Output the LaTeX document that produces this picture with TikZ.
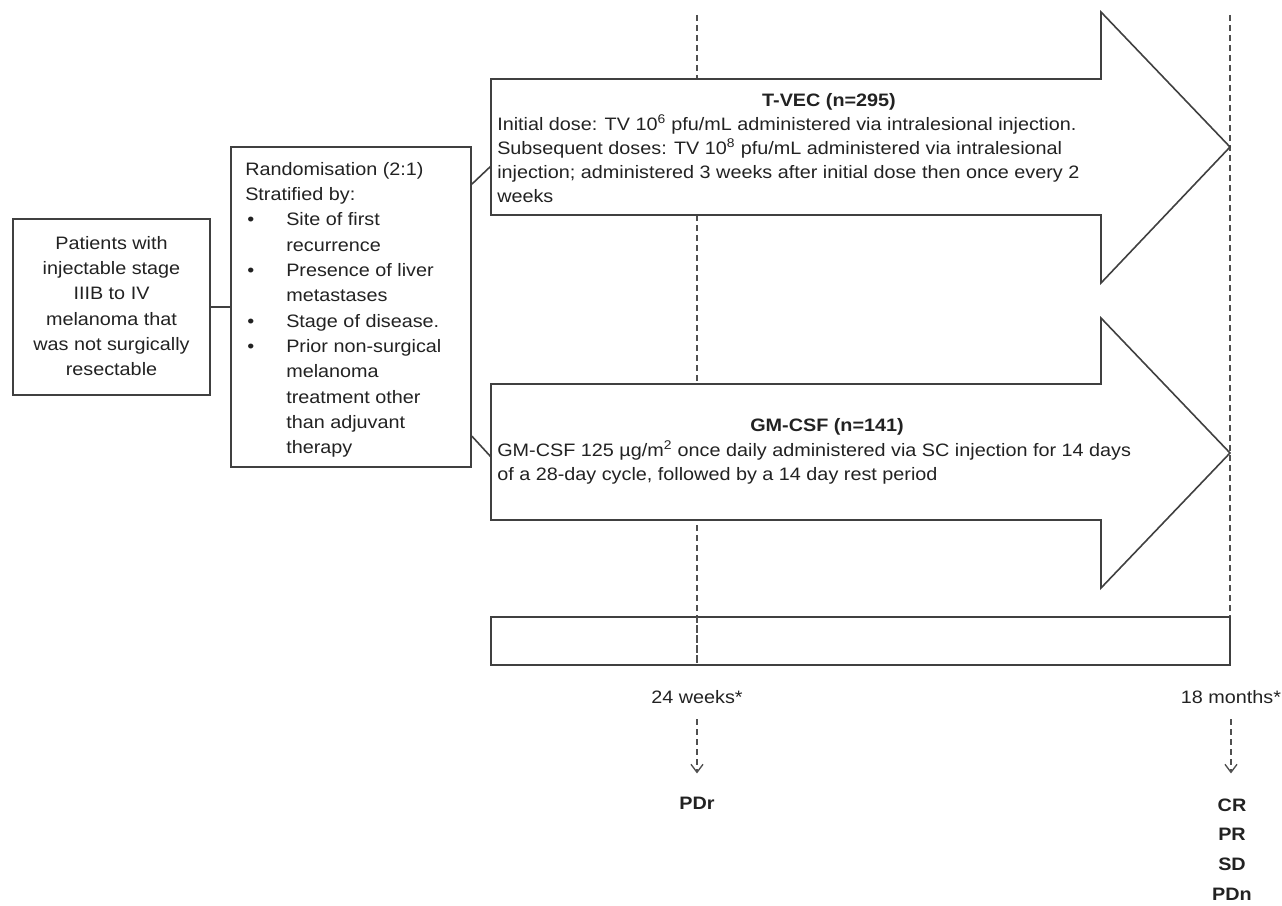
\documentclass[tikz,border=0pt]{standalone}
\usepackage{fontspec}
\setmainfont{Liberation Sans}[FakeStretch=1.1]
\usetikzlibrary{arrows.meta}
\definecolor{edge}{HTML}{404040}
\definecolor{ink}{HTML}{222222}
\definecolor{dash}{HTML}{505050}
\newcommand\txt{\fontsize{13.5}{18}\selectfont}
\newcommand\txtw{\fontsize{13.5}{19}\selectfont}
\newcommand\bul{\makebox[30.75pt][l]{\hspace*{1.5pt}•}}
\newcommand\ind{\hspace*{30.75pt}}
\begin{document}
\begin{tikzpicture}[x=0.75pt,y=-0.75pt,
  box/.style={draw=edge, line width=1.3pt, fill=white, inner sep=0pt},
  armshape/.style={draw=edge, line width=1.2pt, fill=white, line join=miter},
  link/.style={draw=edge, line width=1.2pt},
  guide/.style={draw=dash, line width=1.3pt, dash pattern=on 4.5pt off 3pt},
  pointer/.style={guide, -{Straight Barb[length=6pt,width=9pt,line width=1pt]}},
  label/.style={inner sep=0pt, text=ink, font=\txt},
  blabel/.style={label, font=\txt\bfseries}]
\useasboundingbox (0,0) rectangle (1282,906);

% timeline guides
\coordinate (g1top) at (697,15);
\coordinate (g1bot) at (697,665);
\coordinate (g2top) at (1230,15);
\coordinate (g2bot) at (1230,665);
\draw[guide] (g1top) -- (g1bot);
\draw[guide] (g2top) -- (g2bot);

% follow-up bar
\node[draw=edge, line width=1.3pt, minimum width=554.25pt, minimum height=36pt, inner sep=0pt]
  (bar) at (860.5,641) {};
\draw[guide] (697,617) -- (g1bot);

% treatment arms
\draw[armshape] (491,79) -- (1101,79) -- (1101,12) -- (1230,147) -- (1101,283)
  -- (1101,215) -- (491,215) -- cycle;
\coordinate (tvin) at (491,166);
\draw[armshape] (491,384) -- (1101,384) -- (1101,318) -- (1230,453) -- (1101,588)
  -- (1101,520) -- (491,520) -- cycle;
\coordinate (gmin) at (491,457);

% patient and randomisation boxes
\node[box, minimum width=147.75pt, minimum height=132pt] (pat) at (111.5,307) {};
\node[label, align=center, anchor=north, font=\txtw] at (111.5,231)
  {\strut Patients with\\injectable stage\\IIIB to IV\\melanoma that\\was not surgically\\resectable};
\node[box, minimum width=180pt, minimum height=240pt] (rand) at (351,307) {};
\node[label, align=left, anchor=north west, font=\txtw] at (245,157)
  {\strut Randomisation (2:1)\\Stratified by:\\
   \bul Site of first\\\ind recurrence\\
   \bul Presence of liver\\\ind metastases\\
   \bul Stage of disease.\\
   \bul Prior non-surgical\\\ind melanoma\\\ind treatment other\\\ind than adjuvant\\\ind therapy};

% connectors
\draw[link] (pat.east) -- (rand.west);
\draw[link] (rand.north east) ++(0,38) -- (tvin);
\draw[link] (rand.north east) ++(0,290) -- (gmin);

% arm texts
\node[blabel, anchor=base] (tvt) at (829,107) {T-VEC (n=295)};
\node[label, align=left, anchor=north west] (tvx) at (497,113)
  {\strut Initial dose: TV 10\textsuperscript{6} pfu/mL administered via intralesional injection.\\
   Subsequent doses: TV 10\textsuperscript{8} pfu/mL administered via intralesional\\
   injection; administered 3 weeks after initial dose then once every 2\\
   weeks};
\node[blabel, anchor=base] (gmt) at (827,431) {GM-CSF (n=141)};
\node[label, align=left, anchor=north west] (gmx) at (497,439)
  {\strut GM-CSF 125 µg/m\textsuperscript{2} once daily administered via SC injection for 14 days\\
   of a 28-day cycle, followed by a 14 day rest period};

% assessment points
\node[label, anchor=base] (w24) at (697,703) {24 weeks*};
\node[label, anchor=base] (m18) at (1231,703) {18 months*};
\node[blabel, anchor=base] (pdr) at (697,809) {PDr};
\node[blabel, align=center, anchor=north, font=\fontsize{13.5}{22.3}\selectfont\bfseries] (resp) at (1232,790)
  {\strut CR\\PR\\SD\\PDn};
\draw[pointer] (w24.south) ++(0,16) -- ++(0,54);
\draw[pointer] (m18.south) ++(0,16) -- ++(0,54);
\end{tikzpicture}
\end{document}
